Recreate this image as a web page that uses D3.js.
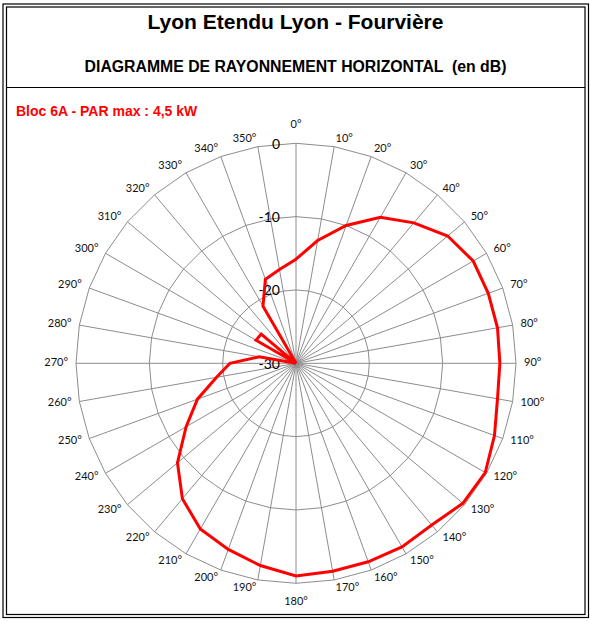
<!DOCTYPE html>
<html>
<head>
<meta charset="utf-8">
<script src="https://cdn.jsdelivr.net/npm/d3@7"></script>
<style>
  body { margin: 0; background: #fff; }
  svg { display: block; }
</style>
</head>
<body>
<svg id="chart" width="590" height="621"></svg>
<script>
// ---- data ----
const titleText = "Lyon Etendu Lyon - Fourvière";
const subtitleText = "DIAGRAMME DE RAYONNEMENT HORIZONTAL  (en dB)";
const blocText = "Bloc 6A - PAR max : 4,5 kW";
const angles = d3.range(0, 360, 10);
const attenuation = [
  -15.8, -13.0, -10.0, -7.0, -5.0, -3.0, -2.1, -2.1, -2.1,
  -2.2, -2.1, -1.2, -0.2, -0.3, -1.2, -1.1, -1.2, -1.2,
  -1.0, -2.0, -3.0, -3.9, -5.9, -8.9, -12.7, -15.7, -19.0,
  -21.0, -24.9, -30.0, -23.7, -23.8, -30.0, -21.0, -17.8, -17.0
];
const ringValues = [0, -10, -20];
const scaleLabels = [0, -10, -20, -30];

// ---- layout ----
const svg = d3.select("#chart");
const cx = 296, cy = 363.3, R = 220;

const r = d3.scaleLinear().domain([-30, 0]).range([0, R]).clamp(true);
const a = d3.scaleLinear().domain([0, 360]).range([0, 2 * Math.PI]);

// frame
svg.append("rect").attr("x", 3).attr("y", 4).attr("width", 585.5).attr("height", 613.5)
  .attr("fill", "none").attr("stroke", "#000").attr("stroke-width", 1.2);
svg.append("rect").attr("x", 6.5).attr("y", 7).attr("width", 578.5).attr("height", 607.5)
  .attr("fill", "none").attr("stroke", "#000").attr("stroke-width", 1.2);
svg.append("line").attr("x1", 6.5).attr("x2", 585).attr("y1", 87.5).attr("y2", 87.5)
  .attr("stroke", "#000").attr("stroke-width", 1.2);

svg.append("text").attr("x", 295.5).attr("y", 28.5).attr("text-anchor", "middle")
  .attr("font-family", "Liberation Sans, Arial, sans-serif").attr("font-weight", "bold")
  .attr("font-size", 21).attr("fill", "#000").text(titleText);
svg.append("text").attr("x", 295.5).attr("y", 72).attr("text-anchor", "middle")
  .attr("font-family", "Liberation Sans, Arial, sans-serif").attr("font-weight", "bold")
  .attr("font-size", 15.8).attr("fill", "#000").attr("xml:space", "preserve")
  .style("white-space", "pre").text(subtitleText);
svg.append("text").attr("x", 16).attr("y", 116)
  .attr("font-family", "Liberation Sans, Arial, sans-serif").attr("font-weight", "bold")
  .attr("font-size", 14).attr("fill", "#ff0000").text(blocText);

const g = svg.append("g").attr("transform", `translate(${cx},${cy})`);

// rings (polygonal)
const ringLine = d3.lineRadial().angle(d => a(d.ang)).radius(d => r(d.v)).curve(d3.curveLinearClosed);
ringValues.forEach(v => {
  g.append("path").attr("d", ringLine(angles.map(ang => ({ ang, v }))))
    .attr("fill", "none").attr("stroke", "#8c8c8c").attr("stroke-width", 1);
});

// spokes
g.selectAll("line.spoke").data(angles).join("line").attr("class", "spoke")
  .attr("x1", 0).attr("y1", 0)
  .attr("x2", d => R * Math.sin(a(d)))
  .attr("y2", d => -R * Math.cos(a(d)))
  .attr("stroke", "#8c8c8c").attr("stroke-width", 1);

// angle labels (Excel-style anchoring)
const labR = 228;
g.selectAll("text.ang").data(angles).join("text").attr("class", "ang")
  .attr("font-family", "Lato, sans-serif").attr("font-size", 11).attr("fill", "#111")
  .text(d => d + "°")
  .each(function (d) {
    const s = Math.sin(a(d)), c = Math.cos(a(d));
    const sel = d3.select(this);
    if (d === 0) {
      sel.attr("x", 0).attr("y", -235).attr("text-anchor", "middle");
    } else if (d === 180) {
      sel.attr("x", 0).attr("y", 242).attr("text-anchor", "middle");
    } else {
      sel.attr("x", labR * s).attr("y", -labR * c - 1.5)
        .attr("text-anchor", s > 0 ? "start" : "end")
        .attr("dominant-baseline", "central");
    }
  });

// scale labels
g.selectAll("text.sc").data(scaleLabels).join("text").attr("class", "sc")
  .attr("x", -16).attr("y", d => -r(d)).attr("text-anchor", "end")
  .attr("dominant-baseline", "central")
  .attr("font-family", "Lato, sans-serif").attr("font-size", 14).attr("fill", "#000")
  .text(d => d);

// data line
const dataLine = d3.lineRadial().angle((d, i) => a(angles[i])).radius(d => r(d)).curve(d3.curveLinearClosed);
g.append("path").attr("d", dataLine(attenuation))
  .attr("fill", "none").attr("stroke", "#ff0000").attr("stroke-width", 3)
  .attr("stroke-linejoin", "miter");
</script>
</body>
</html>
